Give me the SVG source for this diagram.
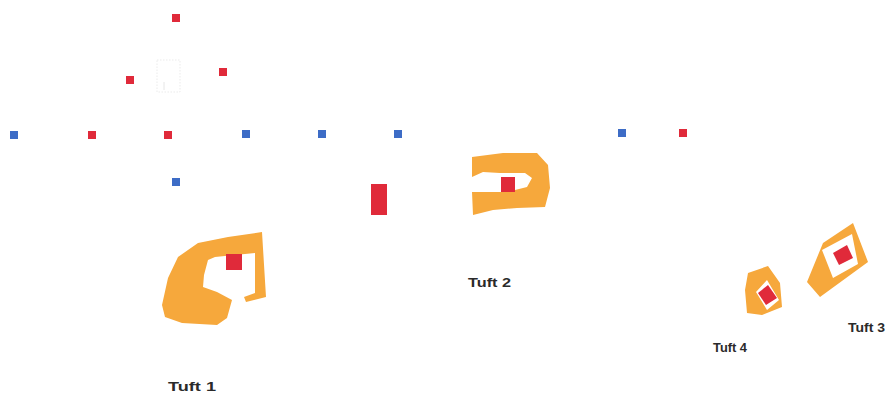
<svg xmlns="http://www.w3.org/2000/svg" width="887" height="397" viewBox="0 0 887 397">
<style>
.r{fill:#e02a3a}
.b{fill:#3d6cc6}
.o{fill:#f6a83c;fill-rule:evenodd}
.w{fill:#ffffff}
.t{font-family:"Liberation Sans",Arial,sans-serif;font-weight:bold;font-size:13px;fill:#2a2a2a}
</style>
<rect width="887" height="397" fill="#ffffff"/>
<g id="faint-box">
<rect x="157" y="60" width="23" height="32" fill="none" stroke="#e6e6e6" stroke-width="0.8" stroke-dasharray="1.5,1.5"/>
<line x1="164" y1="82" x2="164" y2="90" stroke="#e6e6e6" stroke-width="1"/>
</g>
<g id="points">
<rect class="r" x="172" y="14" width="8" height="8"/>
<rect class="r" x="126" y="76" width="8" height="8"/>
<rect class="r" x="219" y="68" width="8" height="8"/>
<rect class="b" x="10" y="131" width="8" height="8"/>
<rect class="r" x="88" y="131" width="8" height="8"/>
<rect class="r" x="164" y="131" width="8" height="8"/>
<rect class="b" x="242" y="130" width="8" height="8"/>
<rect class="b" x="318" y="130" width="8" height="8"/>
<rect class="b" x="394" y="130" width="8" height="8"/>
<rect class="b" x="618" y="129" width="8" height="8"/>
<rect class="r" x="679" y="129" width="8" height="8"/>
<rect class="b" x="172" y="178" width="8" height="8"/>
</g>
<g id="bar">
<rect class="r" x="371" y="184" width="16" height="31"/>
</g>
<g id="tuft1">
<path class="o" d="M262,232 L266,297 L246,302 L244,297 L255,293 L255,253 L215,257 L208,260 L204,275 L203,287 L217,292 L232,300 L227,318 L217,325 L182,323 L165,317 L162,305 L168,278 L178,257 L198,243 L228,237 Z"/>
<rect class="r" x="226" y="254" width="16" height="16"/>
<text class="t" x="168" y="391" textLength="48" lengthAdjust="spacingAndGlyphs">Tuft 1</text>
</g>
<g id="tuft2">
<path class="o" d="M472,157 L503,153 L537,153 L548,165 L550,188 L545,207 L517,208 L493,210 L473,215 L472,192 L488,192 L507,192 L527,187 L532,178 L525,173 L500,173 L483,172 L472,177 Z"/>
<rect class="r" x="501" y="177" width="14" height="15"/>
<text class="t" x="468" y="287" textLength="43" lengthAdjust="spacingAndGlyphs">Tuft 2</text>
</g>
<g id="tuft3">
<path class="o" d="M823,243 L853,223 L868,262 L820,297 L807,282 Z M822,250 L852,234 L858,264 L833,278 Z"/>
<path class="r" d="M833,253 L847,245 L853,258 L839,265 Z"/>
<text class="t" x="848" y="332" textLength="37" lengthAdjust="spacingAndGlyphs">Tuft 3</text>
</g>
<g id="tuft4">
<path class="o" d="M748,273 L768,266 L780,283 L782,307 L762,315 L747,313 L745,290 Z M767,280 L779,300 L767,310 L756,292 Z"/>
<path class="r" d="M768,285 L777,298 L766,305 L758,293 Z"/>
<text class="t" x="713" y="352" textLength="34" lengthAdjust="spacingAndGlyphs">Tuft 4</text>
</g>
</svg>
